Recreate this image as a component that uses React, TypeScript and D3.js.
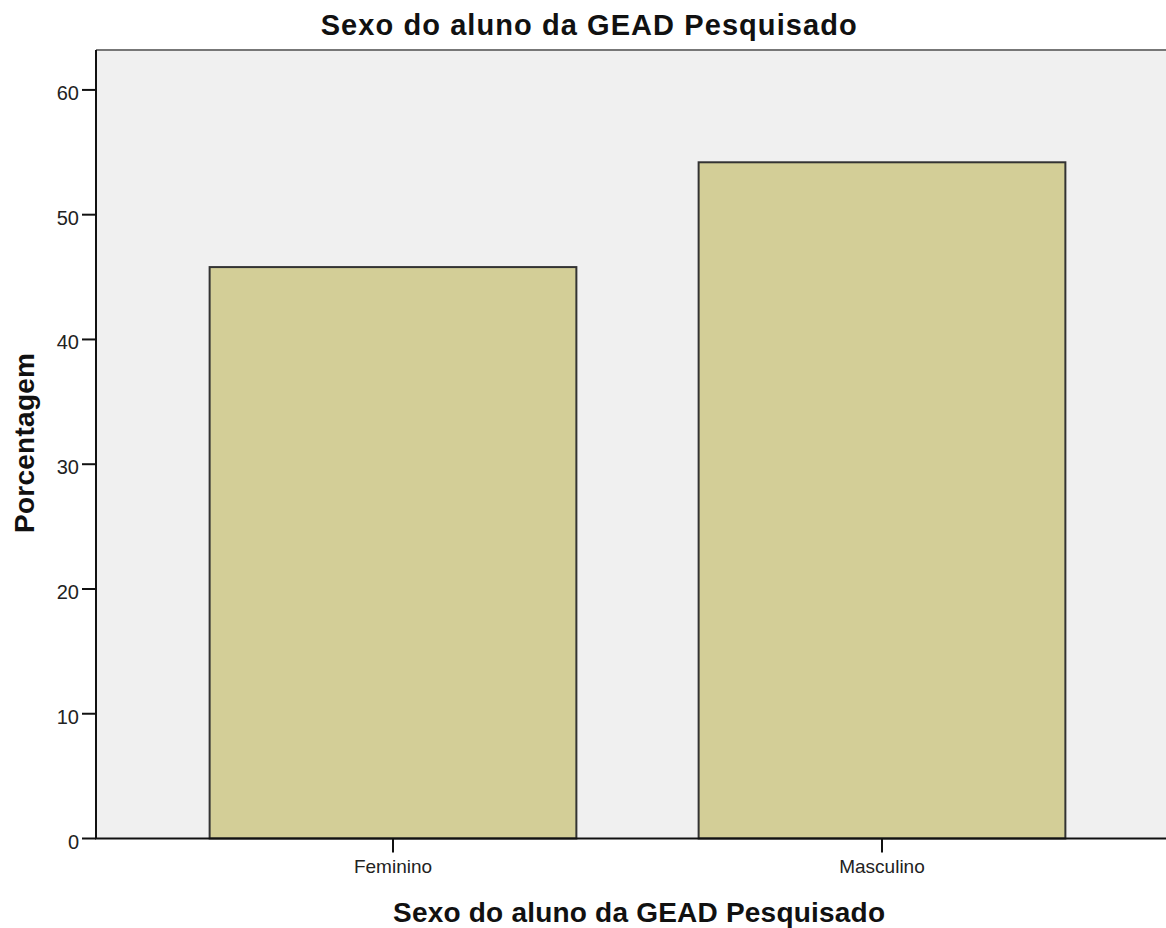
import React from "react";
import * as d3 from "d3";

const categories = ["Feminino", "Masculino"];
const percentages = [45.8, 54.2];
const yTicks = [0, 10, 20, 30, 40, 50, 60];
const chartTitle = "Sexo do aluno da GEAD Pesquisado";
const xTitle = "Sexo do aluno da GEAD Pesquisado";
const yTitle = "Porcentagem";

const W = 1166;
const H = 928;
const plotLeft = 96;
const plotTop = 50;
const plotBottom = 838.5;
const plotRight = 1166;
const FONT = "'Liberation Sans', Arial, sans-serif";

export default function App() {
  const y = d3.scaleLinear().domain([0, 63.2]).range([plotBottom, plotTop]);
  const x = d3
    .scaleBand<string>()
    .domain(categories)
    .range([148.5, 1126.5])
    .paddingInner(0.25)
    .paddingOuter(0.125);

  return (
    <svg
      width={W}
      height={H}
      style={{ position: "absolute", left: 0, top: 0, background: "#fff" }}
      fontFamily={FONT}
    >
      <rect x={0} y={0} width={W} height={H} fill="#ffffff" />
      <rect
        x={plotLeft}
        y={plotTop}
        width={plotRight - plotLeft + 2}
        height={plotBottom - plotTop}
        fill="#f0f0f0"
      />
      <line x1={plotLeft} x2={plotRight + 2} y1={plotTop} y2={plotTop} stroke="#777" strokeWidth={2} />
      {categories.map((c, i) => (
        <rect
          key={c}
          x={x(c)}
          y={y(percentages[i])}
          width={x.bandwidth()}
          height={plotBottom - y(percentages[i])}
          fill="#d3ce97"
          stroke="#333"
          strokeWidth={2}
        />
      ))}
      {/* y axis */}
      <line x1={plotLeft} x2={plotLeft} y1={plotTop} y2={plotBottom} stroke="#111" strokeWidth={2} />
      {yTicks.map((t) => (
        <g key={t}>
          <line x1={plotLeft - 14} x2={plotLeft} y1={y(t)} y2={y(t)} stroke="#111" strokeWidth={2} />
          <text x={79} y={y(t) + 10} textAnchor="end" fontSize={20} fill="#222">
            {t}
          </text>
        </g>
      ))}
      {/* x axis */}
      <line x1={plotLeft - 1} x2={plotRight + 2} y1={plotBottom} y2={plotBottom} stroke="#111" strokeWidth={2} />
      {categories.map((c) => {
        const cx = (x(c) as number) + x.bandwidth() / 2;
        return (
          <g key={c}>
            <line x1={cx} x2={cx} y1={plotBottom} y2={plotBottom + 14} stroke="#111" strokeWidth={2} />
            <text x={cx} y={873} textAnchor="middle" fontSize={19} fill="#222">
              {c}
            </text>
          </g>
        );
      })}
      <text
        x={588.7}
        y={35}
        textAnchor="middle"
        fontSize={29}
        fontWeight="bold"
        fill="#111"
        textLength={536}
        lengthAdjust="spacing"
      >
        {chartTitle}
      </text>
      <text
        x={639}
        y={922}
        textAnchor="middle"
        fontSize={28}
        fontWeight="bold"
        fill="#111"
        textLength={492}
        lengthAdjust="spacing"
      >
        {xTitle}
      </text>
      <text
        transform={`translate(34,443) rotate(-90)`}
        textAnchor="middle"
        fontSize={28}
        fontWeight="bold"
        fill="#111"
        textLength={180}
        lengthAdjust="spacing"
      >
        {yTitle}
      </text>
    </svg>
  );
}
